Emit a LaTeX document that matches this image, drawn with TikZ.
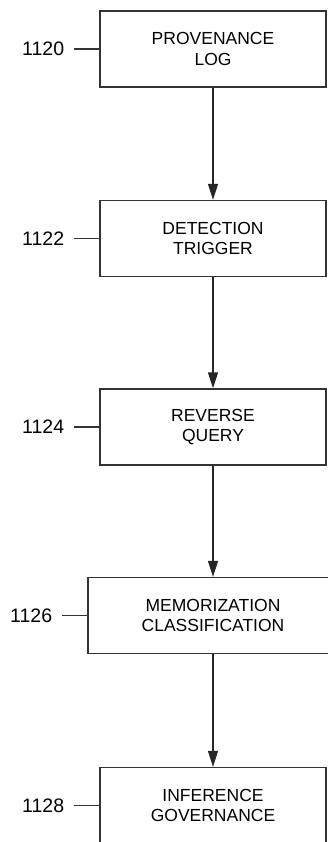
\documentclass[tikz,border=0pt]{standalone}
\usepackage{fontspec}
\setmainfont{Liberation Sans}
\usetikzlibrary{arrows.meta}
\begin{document}
\begin{tikzpicture}[x=1pt,y=-1pt,
  box/.style={draw=black!80, line width=1.3pt, minimum width=226pt, minimum height=76pt,
    align=center, font=\fontsize{17.5}{20.5}\selectfont, inner sep=0pt},
  ref/.style={font=\fontsize{19.5}{22}\selectfont, anchor=east, inner sep=0pt},
  lead/.style={draw=black!80, line width=1.1pt},
  flow/.style={draw=black!85, line width=1.3pt, -{Triangle[length=16pt,width=10pt]}}]
\useasboundingbox (0,0) rectangle (327,842);
\node[box] (b1) at (213,49) {PROVENANCE\\LOG};
\node[box] (b2) at (213,238.5) {DETECTION\\TRIGGER};
\node[box] (b3) at (213,427) {REVERSE\\QUERY};
\node[box, minimum width=250pt] (b4) at (213,615.5) {MEMORIZATION\\CLASSIFICATION};
\node[box] (b5) at (213,805.5) {INFERENCE\\GOVERNANCE};
\foreach \i/\t in {1/1120,2/1122,3/1124,4/1126,5/1128}{
  \coordinate (c\i) at ([xshift=-25pt]b\i.west);
  \draw[lead] (b\i.west) -- (c\i);
  \node[ref] (l\i) at ([xshift=-10pt]c\i) {\t};
}
\draw[flow] (b1) -- (b2);
\draw[flow] (b2) -- (b3);
\draw[flow] (b3) -- (b4);
\draw[flow] (b4) -- (b5);
\end{tikzpicture}
\end{document}
